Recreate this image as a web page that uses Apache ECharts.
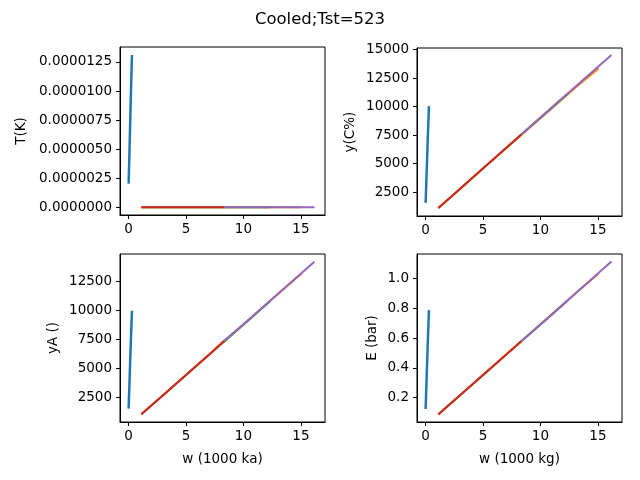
<!DOCTYPE html>
<html>
<head>
<meta charset="utf-8">
<script src="https://cdn.jsdelivr.net/npm/echarts@6/dist/echarts.min.js"></script>
<style>
  html, body { margin: 0; padding: 0; background: #fff; }
  #chart { width: 640px; height: 480px; }
</style>
</head>
<body>
<div id="chart"></div>
<script>
const title = 'Cooled;Tst=523'

// x values (w, 1000 kg) for each run
const xBlue = [0.0, 0.08, 0.18, 0.29]
const xOrange = [1.1, 3, 5, 7, 9, 11, 13, 15.06]
const xGreen = [1.15, 3, 5, 7, 9, 11, 12.3]
const xRed = [1.1, 2, 3, 4, 5, 6, 7, 8.33]
const xPurple = [8.33, 10, 12, 14, 16.18]

// T(K)
const tBlue = [0.00000204, 0.0000050, 0.0000090, 0.0000131]
const tOrange = [0.000000002, 0.000000002, 0.000000003, 0.000000003, 0.000000004, 0.000000004, 0.000000005, 0.000000005]
const tGreen = [0.000000002, 0.000000002, 0.000000003, 0.000000003, 0.000000004, 0.000000004, 0.000000005]
const tRed = [0.000000002, 0.000000002, 0.000000002, 0.000000003, 0.000000003, 0.000000003, 0.000000004, 0.000000004]
const tPurple = [0.000000004, 0.000000004, 0.000000005, 0.000000005, 0.000000006]

// y(C%)
const cBlue = [1550, 3900, 7000, 10050]
const cOrange = [1095, 2780, 4560, 6330, 8100, 9870, 11630, 13360]
const cGreen = [1130, 2790, 4580, 6360, 8140, 9920, 11070]
const cRed = [1095, 1900, 2795, 3690, 4585, 5480, 6375, 7566]
const cPurple = [7566, 9050, 10820, 12600, 14530]

// yA ()
const aBlue = [1550, 3900, 6950, 10000]
const aOrange = [1055, 2710, 4455, 6200, 7940, 9680, 11430, 13210]
const aGreen = [1095, 2710, 4450, 6190, 7930, 9670, 10800]
const aRed = [1055, 1840, 2710, 3585, 4460, 5330, 6200, 7430]
const aPurple = [7430, 8830, 10570, 12320, 14230]

// E (bar)
const eBlue = [0.124, 0.31, 0.55, 0.787]
const eOrange = [0.088, 0.216, 0.352, 0.488, 0.624, 0.76, 0.896, 1.033]
const eGreen = [0.091, 0.216, 0.351, 0.487, 0.623, 0.758, 0.846]
const eRed = [0.088, 0.149, 0.217, 0.285, 0.353, 0.42, 0.488, 0.578]
const ePurple = [0.578, 0.691, 0.827, 0.963, 1.112]

const xTicks = [0, 5, 10, 15]
const tTicks = [0, 0.0000025, 0.000005, 0.0000075, 0.00001, 0.0000125]
const cTicks = [2500, 5000, 7500, 10000, 12500, 15000]
const aTicks = [2500, 5000, 7500, 10000, 12500]
const eTicks = [0.2, 0.4, 0.6, 0.8, 1.0]

const colors = ['#1f77b4', '#ff7f0e', '#2ca02c', '#d62728', '#9467bd']

function pairs(xs, ys) {
    return xs.map((x, i) => [x, ys[i]])
}

const panels = [
    {grid: {left: 120, top: 47, width: 205, height: 168}, ymin: -0.00000066, ymax: 0.00001379, ticks: tTicks, fmt: v => v.toFixed(7), name: 'T(K)', gap: 92, xname: '',
        ys: [tBlue, tOrange, tGreen, tRed, tPurple]},
    {grid: {left: 417, top: 48, width: 205, height: 168}, ymin: 400, ymax: 15150, ticks: cTicks, fmt: v => String(v), name: 'y(C%)', gap: 60, xname: '',
        ys: [cBlue, cOrange, cGreen, cRed, cPurple]},
    {grid: {left: 120, top: 254, width: 205, height: 168}, ymin: 396, ymax: 14889, ticks: aTicks, fmt: v => String(v), name: 'yA ()', gap: 60, xname: 'w (1000 ka)',
        ys: [aBlue, aOrange, aGreen, aRed, aPurple]},
    {grid: {left: 417, top: 254, width: 205, height: 168}, ymin: 0.037, ymax: 1.163, ticks: eTicks, fmt: v => v.toFixed(1), name: 'E (bar)', gap: 38, xname: 'w (1000 kg)',
        ys: [eBlue, eOrange, eGreen, eRed, ePurple]}
]
const xsAll = [xBlue, xOrange, xGreen, xRed, xPurple]

const labelStyle = {color: '#000', fontFamily: 'DejaVu Sans', fontSize: 13.5}
const lineStyle = {color: '#000', width: 1}

let grid = [], xAxis = [], yAxis = [], series = []
panels.forEach((p, i) => {
    grid.push(Object.assign({show: true, borderColor: '#000', borderWidth: 1, backgroundColor: '#fff'}, p.grid))
    xAxis.push({
        type: 'value', gridIndex: i, min: -0.75, max: 17.1,
        name: p.xname, nameLocation: 'middle', nameGap: 30,
        nameTextStyle: labelStyle,
        axisLine: {show: true, onZero: false, lineStyle: lineStyle},
        axisTick: {show: true, length: 4, lineStyle: lineStyle, customValues: xTicks},
        axisLabel: Object.assign({margin: 7, customValues: xTicks}, labelStyle),
        splitLine: {show: false}
    })
    yAxis.push({
        type: 'value', gridIndex: i, min: p.ymin, max: p.ymax,
        name: p.name, nameLocation: 'middle', nameGap: p.gap, nameRotate: 90,
        nameTextStyle: labelStyle,
        axisLine: {show: true, onZero: false, lineStyle: lineStyle},
        axisTick: {show: true, length: 4, lineStyle: lineStyle, customValues: p.ticks},
        axisLabel: Object.assign({margin: 8, customValues: p.ticks, formatter: p.fmt}, labelStyle),
        splitLine: {show: false}
    })
    p.ys.forEach((ys, k) => {
        series.push({
            type: 'line', xAxisIndex: i, yAxisIndex: i,
            data: pairs(xsAll[k], ys),
            showSymbol: false, symbol: 'none', animation: false,
            lineStyle: {color: colors[k], width: k === 0 ? 2.5 : 2},
            z: 2 + k
        })
    })
})

let chart = echarts.init(document.getElementById('chart'), null, {renderer: 'canvas'})
chart.setOption({
    backgroundColor: '#fff',
    animation: false,
    title: {
        text: title, left: 'center', top: 6,
        textStyle: {color: '#000', fontFamily: 'DejaVu Sans', fontSize: 16.5, fontWeight: 'normal'}
    },
    grid: grid,
    xAxis: xAxis,
    yAxis: yAxis,
    series: series
})
</script>
</body>
</html>
